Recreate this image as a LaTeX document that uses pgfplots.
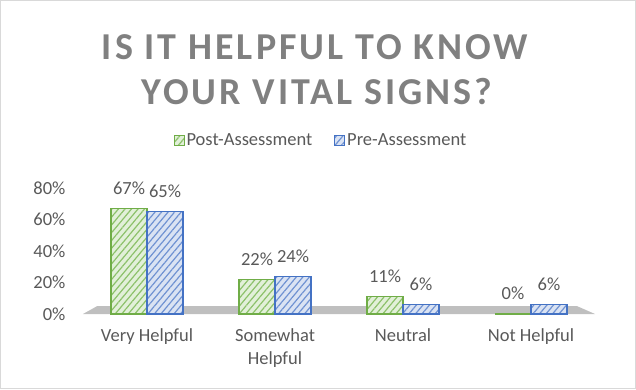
\documentclass[border=0pt]{standalone}
\usepackage{pgfplots}
\pgfplotsset{compat=1.18}
\usepackage{fontspec}
\setmainfont{Carlito}
\newfontfamily\titlefont[LetterSpace=8]{Carlito}
\usetikzlibrary{patterns.meta}
\definecolor{cgreen}{HTML}{70AD47}
\definecolor{cblue}{HTML}{4472C4}
\definecolor{lgreen}{HTML}{E2F0D9}
\definecolor{lblue}{HTML}{DAE3F3}
\definecolor{pgreen}{HTML}{8CC16A}
\definecolor{pblue}{HTML}{6F92D2}
\definecolor{txt}{HTML}{595959}
\definecolor{ttl}{HTML}{808080}
\definecolor{floorc}{HTML}{BFBFBF}
\begin{document}
\begin{tikzpicture}
\begin{axis}[
  at={(0,0)}, anchor=south west, scale only axis,
  width=512pt, height=126pt,
  xmin=-0.5, xmax=3.5, ymin=0, ymax=80,
  ybar=0pt, bar width=36pt,
  xtick={0,1,2,3},
  xticklabels={Very Helpful, Somewhat\\Helpful, Neutral, Not Helpful},
  xticklabel style={align=center, yshift=-11pt, font=\fontsize{18.5}{23}\selectfont, text=txt},
  ytick={0,20,40,60,80},
  yticklabel={\pgfmathprintnumber{\tick}\%},
  /pgf/number format/assume math mode=true,
  yticklabel style={xshift=-14pt, font=\fontsize{18.5}{22}\selectfont, text=txt},
  axis line style={draw=none}, major tick length=0pt,
  clip=false,
  nodes near coords={\pgfmathprintnumber{\pgfplotspointmeta}\%},
  nodes near coords style={font=\fontsize{18.5}{22}\selectfont, text=txt, yshift=10pt},
  legend style={at={(0.465,1.38)}, anchor=center, draw=none, fill=none,
    font=\fontsize{18.5}{22}\selectfont, text=txt, legend columns=2,
    /tikz/every even column/.append style={column sep=20pt}},
  legend image code/.code={\draw[#1,line width=0.8pt] (0pt,-5pt) rectangle (10pt,5pt);},
]
\fill[floorc] (axis cs:-0.5,0) -- (axis cs:3.5,0) -- (axis cs:3.36,5) -- (axis cs:-0.39,5) -- cycle;
\addplot[draw=cgreen, line width=1.4pt, fill=lgreen,
  postaction={pattern={Lines[angle=50,distance=5pt,line width=1.2pt]}, pattern color=pgreen}]
  coordinates {(0,67) (1,22) (2,11) (3,0)};
\addplot[draw=cblue, line width=1.4pt, fill=lblue,
  postaction={pattern={Lines[angle=50,distance=5pt,line width=1.2pt]}, pattern color=pblue}]
  coordinates {(0,65) (1,24) (2,6) (3,6)};
\legend{Post-Assessment, Pre-Assessment}
\end{axis}
\node[font=\titlefont\bfseries\fontsize{38}{42}\selectfont, text=ttl] at (232pt,267pt) {IS IT HELPFUL TO KNOW};
\node[font=\titlefont\bfseries\fontsize{38}{42}\selectfont, text=ttl] at (234pt,222pt) {YOUR VITAL SIGNS?};
\draw[color=gray!30, line width=1pt] (-82.5pt,-74.5pt) rectangle (552.5pt,313.5pt);
\end{tikzpicture}
\end{document}
